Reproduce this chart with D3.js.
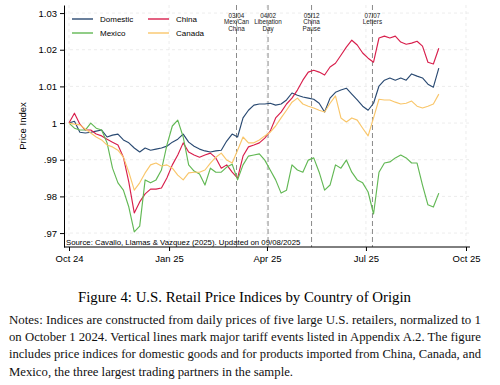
<!DOCTYPE html>
<html>
<head>
<meta charset="utf-8">
<script src="https://cdn.jsdelivr.net/npm/d3@7"></script>
<style>
  body { margin: 0; background: #fff; }
  svg { display: block; }
</style>
</head>
<body>
<div id="chart"></div>
<script>
const dates = [
  "2024-10-01","2024-10-06","2024-10-11","2024-10-16","2024-10-21","2024-10-26","2024-10-31",
  "2024-11-05","2024-11-10","2024-11-15","2024-11-20","2024-11-25","2024-11-30",
  "2024-12-05","2024-12-10","2024-12-15","2024-12-20","2024-12-25","2024-12-30",
  "2025-01-04","2025-01-09","2025-01-14","2025-01-19","2025-01-24","2025-01-29",
  "2025-02-03","2025-02-08","2025-02-13","2025-02-18","2025-02-23","2025-02-28",
  "2025-03-05","2025-03-10","2025-03-15","2025-03-20","2025-03-25","2025-03-30",
  "2025-04-04","2025-04-09","2025-04-14","2025-04-19","2025-04-24","2025-04-29",
  "2025-05-04","2025-05-09","2025-05-14","2025-05-19","2025-05-24","2025-05-29",
  "2025-06-03","2025-06-08","2025-06-13","2025-06-18","2025-06-23","2025-06-28",
  "2025-07-03","2025-07-08","2025-07-13","2025-07-18","2025-07-23","2025-07-28",
  "2025-08-02","2025-08-07","2025-08-12","2025-08-17","2025-08-22","2025-08-27",
  "2025-09-01","2025-09-06"
];

const domestic = [
  1.0000, 1.0005, 0.9975, 0.9973, 0.9975, 0.9978, 0.9981, 0.9962, 0.9967, 0.9970,
  0.9954, 0.9946, 0.9932, 0.9921, 0.9932, 0.9926, 0.9929, 0.9932, 0.9937, 0.9948,
  0.9956, 0.9970, 0.9948, 0.9937, 0.9929, 0.9924, 0.9921, 0.9924, 0.9926, 0.9951,
  0.9970, 0.9962, 1.0014, 1.0035, 1.0049, 1.0052, 1.0052, 1.0054, 1.0049, 1.0052,
  1.0063, 1.0082, 1.0076, 1.0071, 1.0068, 1.0065, 1.0054, 1.0030, 1.0068, 1.0084,
  1.0090, 1.0095, 1.0079, 1.0063, 1.0046, 1.0035, 1.0054, 1.0101, 1.0117, 1.0123,
  1.0117, 1.0123, 1.0117, 1.0134, 1.0128, 1.0123, 1.0106, 1.0098, 1.0150
];

const china = [
  1.0000, 1.0027, 0.9997, 0.9981, 0.9981, 0.9970, 0.9965, 0.9956, 0.9948, 0.9940,
  0.9907, 0.9839, 0.9755, 0.9785, 0.9807, 0.9820, 0.9820, 0.9823, 0.9850, 0.9886,
  0.9913, 0.9946, 0.9921, 0.9913, 0.9907, 0.9913, 0.9918, 0.9905, 0.9877, 0.9886,
  0.9866, 0.9850, 0.9910, 0.9935, 0.9940, 0.9946, 0.9959, 0.9978, 1.0014, 1.0030,
  1.0052, 1.0068, 1.0090, 1.0117, 1.0139, 1.0144, 1.0139, 1.0131, 1.0153, 1.0163,
  1.0185, 1.0207, 1.0226, 1.0213, 1.0191, 1.0177, 1.0166, 1.0232, 1.0237, 1.0232,
  1.0237, 1.0221, 1.0215, 1.0218, 1.0223, 1.0210, 1.0166, 1.0161, 1.0204
];

const mexico = [
  1.0000, 0.9986, 0.9981, 0.9981, 1.0000, 0.9986, 0.9981, 0.9946, 0.9877, 0.9837,
  0.9817, 0.9771, 0.9703, 0.9719, 0.9845, 0.9837, 0.9845, 0.9872, 0.9940, 0.9992,
  1.0008, 0.9962, 0.9886, 0.9869, 0.9861, 0.9831, 0.9877, 0.9866, 0.9866, 0.9880,
  0.9888, 0.9845, 0.9886, 0.9910, 0.9913, 0.9916, 0.9899, 0.9872, 0.9845, 0.9809,
  0.9817, 0.9886, 0.9872, 0.9866, 0.9899, 0.9905, 0.9866, 0.9817, 0.9831, 0.9886,
  0.9877, 0.9899, 0.9866, 0.9845, 0.9837, 0.9812, 0.9752, 0.9866, 0.9891, 0.9894,
  0.9905, 0.9913, 0.9905, 0.9891, 0.9891, 0.9831, 0.9777, 0.9771, 0.9809
];

const canada = [
  1.0000, 0.9997, 0.9995, 0.9984, 0.9973, 0.9962, 0.9954, 0.9940, 0.9935, 0.9926,
  0.9907, 0.9866, 0.9817, 0.9837, 0.9864, 0.9886, 0.9891, 0.9883, 0.9886, 0.9877,
  0.9858, 0.9845, 0.9864, 0.9866, 0.9866, 0.9872, 0.9891, 0.9907, 0.9918, 0.9899,
  0.9891, 0.9926, 0.9962, 0.9946, 0.9946, 0.9954, 0.9965, 0.9975, 0.9992, 1.0014,
  1.0035, 1.0057, 1.0068, 1.0052, 1.0046, 1.0041, 1.0035, 1.0030, 1.0054, 1.0074,
  1.0014, 1.0003, 1.0014, 1.0008, 0.9986, 0.9965, 1.0014, 1.0065, 1.0063, 1.0063,
  1.0057, 1.0052, 1.0054, 1.0060, 1.0046, 1.0041, 1.0046, 1.0052, 1.0079
];

const seriesNames = ["Domestic", "China", "Mexico", "Canada"];
const seriesValues = [domestic, china, mexico, canada];
const seriesColors = ["#2a4a72", "#d81f4c", "#62b854", "#f9c66a"];

const yTicks = [0.97, 0.98, 0.99, 1.00, 1.01, 1.02, 1.03];
const yTickLabels = [".97", ".98", ".99", "1", "1.01", "1.02", "1.03"];
const xTicks = ["2024-10-01", "2025-01-01", "2025-04-01", "2025-07-01", "2025-10-01"];
const xTickLabels = ["Oct 24", "Jan 25", "Apr 25", "Jul 25", "Oct 25"];

const eventDates = ["2025-03-04", "2025-04-02", "2025-05-12", "2025-07-07"];
const eventLabels = [
  ["03/04", "Mex/Can", "China"],
  ["04/02", "Liberation", "Day"],
  ["05/12", "China", "Pause"],
  ["07/07", "Letters"]
];

const caption = "Figure 4: U.S. Retail Price Indices by Country of Origin";
const notes = [
  "Notes: Indices are constructed from daily prices of five large U.S. retailers, normalized to 1",
  "on October 1 2024. Vertical lines mark major tariff events listed in Appendix A.2. The figure",
  "includes price indices for domestic goods and for products imported from China, Canada, and",
  "Mexico, the three largest trading partners in the sample."
];

// Set dimensions
const W = 500, H = 385;
const plot = { left: 64, right: 470, top: 5, bottom: 247 };
const sans = "'Liberation Sans', Arial, Helvetica, sans-serif";
const serif = "'Liberation Serif', 'Times New Roman', serif";

const parse = d3.timeParse("%Y-%m-%d");

const x = d3.scaleTime()
  .domain([parse("2024-10-01"), parse("2025-10-01")])
  .range([69, 466]);
const y = d3.scaleLinear()
  .domain([0.9662, 1.0322])
  .range([plot.bottom, plot.top]);

const svg = d3.select("#chart").append("svg")
  .attr("width", W)
  .attr("height", H);

svg.append("rect")
  .attr("width", "100%")
  .attr("height", "100%")
  .style("fill", "#fff");

// Grid lines
svg.append("g").selectAll("line")
  .data(yTicks)
  .join("line")
  .attr("x1", plot.left).attr("x2", plot.right)
  .attr("y1", d => y(d)).attr("y2", d => y(d))
  .attr("stroke", "#e4e4e4")
  .attr("stroke-width", 0.7)
  .attr("stroke-dasharray", "3,3");

svg.append("g").selectAll("line")
  .data(xTicks.map(parse))
  .join("line")
  .attr("x1", d => x(d)).attr("x2", d => x(d))
  .attr("y1", plot.top).attr("y2", plot.bottom)
  .attr("stroke", "#e4e4e4")
  .attr("stroke-width", 0.7)
  .attr("stroke-dasharray", "3,3");

// Event lines
const ev = svg.append("g");
eventDates.forEach((d, i) => {
  const ex = x(parse(d));
  ev.append("line")
    .attr("x1", ex).attr("x2", ex)
    .attr("y1", plot.top).attr("y2", plot.bottom)
    .attr("stroke", "#8a8a8a")
    .attr("stroke-width", 1)
    .attr("stroke-dasharray", "5,3");
  eventLabels[i].forEach((t, j) => {
    ev.append("text")
      .attr("x", ex)
      .attr("y", 18 + j * 6.4)
      .attr("text-anchor", "middle")
      .style("font-family", sans)
      .style("font-size", "6.3px")
      .style("fill", "#222")
      .text(t);
  });
});

// Series lines
const line = d3.line()
  .x((d, i) => x(parse(dates[i])))
  .y(d => y(d));

seriesValues.forEach((vals, i) => {
  svg.append("path")
    .datum(vals)
    .attr("d", line)
    .attr("fill", "none")
    .attr("stroke", seriesColors[i])
    .attr("stroke-width", 1.15)
    .attr("stroke-linejoin", "round");
});

// Axes
const yAxis = svg.append("g")
  .attr("transform", `translate(${plot.left},0)`)
  .call(d3.axisLeft(y).tickValues(yTicks).tickFormat((d, i) => yTickLabels[i]).tickSize(4).tickSizeOuter(0).tickPadding(3));

const xAxis = svg.append("g")
  .attr("transform", `translate(0,${plot.bottom})`)
  .call(d3.axisBottom(x).tickValues(xTicks.map(parse)).tickFormat((d, i) => xTickLabels[i]).tickSize(4).tickSizeOuter(0).tickPadding(4));
xAxis.select(".domain").remove();
svg.append("line")
  .attr("x1", plot.left).attr("x2", plot.right)
  .attr("y1", plot.bottom).attr("y2", plot.bottom)
  .attr("stroke", "#000");

[yAxis, xAxis].forEach(a => {
  a.selectAll("text").style("font-family", sans).style("font-size", "9.5px").style("fill", "#000");
  a.selectAll("line, path").attr("stroke", "#000");
});

svg.append("text")
  .attr("transform", `translate(26,${(plot.top + plot.bottom) / 2}) rotate(-90)`)
  .attr("text-anchor", "middle")
  .style("font-family", sans)
  .style("font-size", "9.5px")
  .text("Price Index");

// Legend
const legendPos = [[72, 19], [148, 19], [72, 33], [148, 33]];
seriesNames.forEach((name, i) => {
  const [lx, ly] = legendPos[i];
  svg.append("line")
    .attr("x1", lx).attr("x2", lx + 21)
    .attr("y1", ly).attr("y2", ly)
    .attr("stroke", seriesColors[i])
    .attr("stroke-width", 1.4);
  svg.append("text")
    .attr("x", lx + 28)
    .attr("y", ly + 3)
    .style("font-family", sans)
    .style("font-size", "8px")
    .text(name);
});

// Source note
svg.append("text")
  .attr("x", 66)
  .attr("y", 245)
  .style("font-family", sans)
  .style("font-size", "7.8px")
  .text("Source: Cavallo, Llamas & Vazquez (2025). Updated on 09/08/2025");

// Caption
svg.append("text")
  .attr("x", 244.5)
  .attr("y", 302)
  .attr("text-anchor", "middle")
  .attr("textLength", 333)
  .attr("lengthAdjust", "spacingAndGlyphs")
  .style("font-family", serif)
  .style("font-size", "15px")
  .text(caption);

// Notes, justified to the reference's line widths
const noteWidths = [472, 472, 472, 284];
notes.forEach((t, i) => {
  svg.append("text")
    .attr("x", 9)
    .attr("y", 324 + i * 17.2)
    .attr("textLength", noteWidths[i])
    .attr("lengthAdjust", "spacingAndGlyphs")
    .style("font-family", serif)
    .style("font-size", "12.2px")
    .style("fill", "#111")
    .text(t);
});
</script>
</body>
</html>
